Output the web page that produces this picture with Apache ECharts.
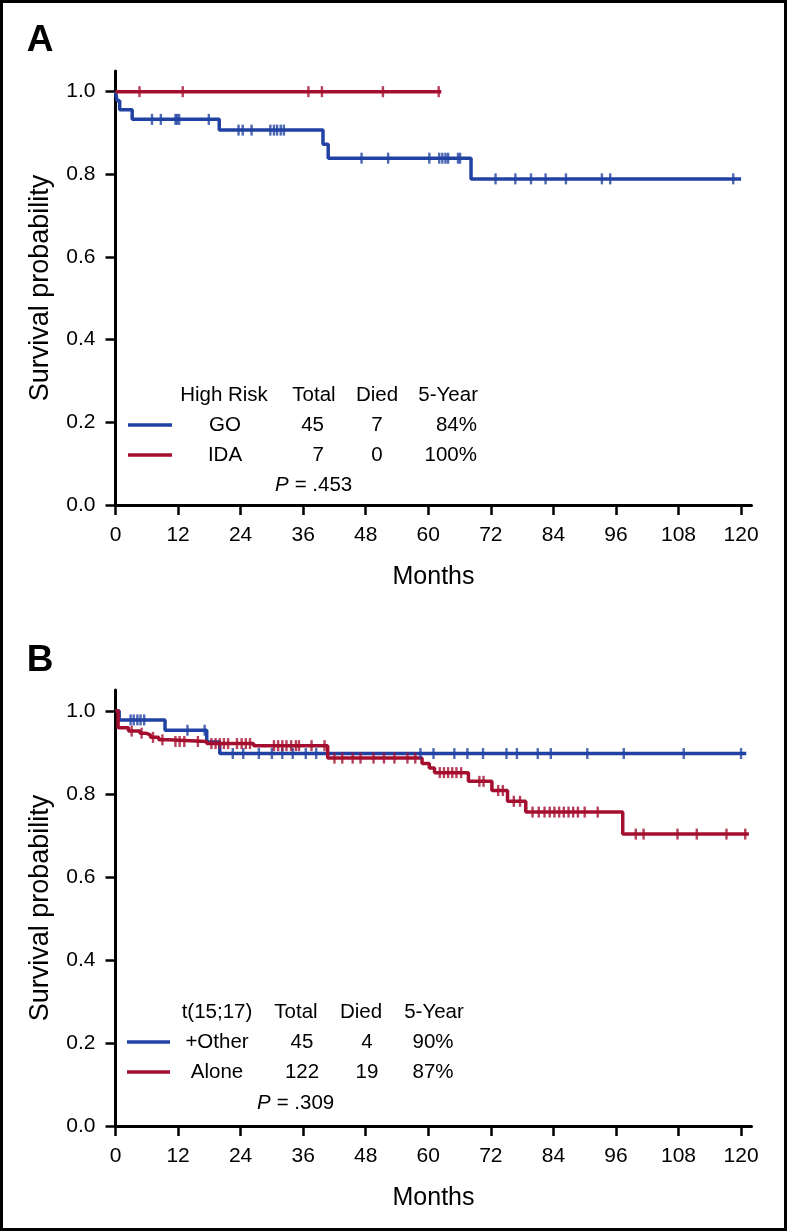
<!DOCTYPE html>
<html><head><meta charset="utf-8">
<script src="https://cdn.jsdelivr.net/npm/echarts@6/dist/echarts.min.js"></script>
<style>html,body{margin:0;padding:0;background:#fff}#c{width:787px;height:1231px}</style>
</head><body><div id="c"></div>
<script>
// ---------- data ----------
const monthTicks = [0, 12, 24, 36, 48, 60, 72, 84, 96, 108, 120];
const survTicks = [0, 0.2, 0.4, 0.6, 0.8, 1.0];

// Panel A : High Risk
const goSteps = [[0,1.0],[0.3,0.978],[0.8,0.956],[3.2,0.933],[19.9,0.907],[39.8,0.873],[40.8,0.839],[68.2,0.789],[120,0.789]];
const goCensor = [7.0,8.7,11.5,11.8,12.2,17.9,23.6,24.4,26.1,29.7,30.4,31.0,31.7,32.3,47.2,52.3,60.2,62.1,62.7,63.3,63.8,65.7,66.1,72.9,76.7,79.7,82.5,86.4,93.3,94.9,118.5];
const idaSteps = [[0,1.0],[62.5,1.0]];
const idaCensor = [4.6,12.9,37.0,39.6,51.3,62.0];

// Panel B : t(15;17)
const otherSteps = [[0,1.0],[0.7,0.978],[9.5,0.953],[17.5,0.925],[20.0,0.897],[121,0.897]];
const otherCensor = [2.9,3.5,4.2,4.8,5.5,13.8,17.1,22.5,24.5,27.5,30,32,34,36.5,38.5,58.5,61,65,67.5,70.5,75,77,81,83.5,90.5,97.5,109,120];
const aloneSteps = [[0,1.0],[0.5,0.959],[2.5,0.951],[4.7,0.946],[5.8,0.942],[6.7,0.936],[8.3,0.930],[10.1,0.926],[17.5,0.921],[26.5,0.916],[40.7,0.886],[58.8,0.873],[60.2,0.862],[61.2,0.851],[67.7,0.830],[72.2,0.808],[75.2,0.782],[78.7,0.756],[97.3,0.703],[121.5,0.703]];
const aloneCensor = [3.1,5.0,7.2,9.0,11.5,12.3,13.2,15.8,18.4,19.2,20.0,20.8,21.6,23.3,24.2,25.0,25.8,30.4,31.2,32.0,32.8,33.7,34.6,35.2,37.6,40.1,42,43.5,45.5,47,49.5,51.5,53.5,56,57.5,62.2,63.0,63.8,64.6,65.4,66.3,69.8,70.6,73.4,74.3,76.4,77.6,80.0,81.2,82.3,83.3,84.2,85.1,86.0,86.9,87.8,88.7,90.0,92.5,99.8,101.3,107.8,111.5,117.2,120.8];

const legendA = {header:['High Risk','Total','Died','5-Year'], rows:[['GO','45','7','84%'],['IDA','7','0','100%']], p:'.453'};
const legendB = {header:['t(15;17)','Total','Died','5-Year'], rows:[['+Other','45','4','90%'],['Alone','122','19','87%']], p:'.309'};

// ---------- helpers ----------
const BLUE = '#2142a3', RED = '#a50f2f';
const FONT = '"Liberation Sans", Arial, Helvetica, sans-serif';
function survAt(steps, t){ let v = steps[0][1]; for (const s of steps){ if (s[0] <= t) v = s[1]; } return v; }
function censorData(steps, c){ return c.map(t => [t, survAt(steps, t)]); }

function xAx(gi){ return {
  gridIndex: gi, type:'value', min:0, max:122, name:'Months', nameLocation:'middle', nameGap:60,
  nameTextStyle:{fontFamily:FONT, fontSize:25, color:'#000'},
  axisLine:{lineStyle:{color:'#000', width:3}},
  axisTick:{length:10, lineStyle:{color:'#000', width:2.5}, customValues: monthTicks},
  axisLabel:{fontFamily:FONT, fontSize:21, color:'#000', margin:20, customValues: monthTicks},
  splitLine:{show:false}
};}
function yAx(gi){ return {
  gridIndex: gi, type:'value', min:0, max:1.05, name:'Survival probability', nameLocation:'middle', nameGap:61,
  nameTextStyle:{fontFamily:FONT, fontSize:27, color:'#000'},
  axisLine:{show:true, lineStyle:{color:'#000', width:3}},
  axisTick:{show:true, length:10, lineStyle:{color:'#000', width:2.5}, customValues: survTicks},
  axisLabel:{fontFamily:FONT, fontSize:21, color:'#000', margin:20, customValues: survTicks, formatter: v => v.toFixed(1)},
  splitLine:{show:false}
};}
function curve(gi, steps, color){ return {type:'line', xAxisIndex:gi, yAxisIndex:gi, step:'end', data:steps, showSymbol:false, symbol:'none', lineStyle:{color, width:3.5}, z:2, animation:false}; }
function marks(gi, steps, c, color){ return {type:'scatter', xAxisIndex:gi, yAxisIndex:gi, data:censorData(steps,c), symbol:'rect', symbolSize:[2.4,11], itemStyle:{color}, z:3, animation:false}; }

const G = [];
function txt(x, y, text, align, extra){ G.push({type:'text', x, y, silent:true, style:Object.assign({text, font:'20.5px '+FONT, fill:'#000', align, verticalAlign:'middle'}, extra||{})}); }
function seg(x1, x2, y, color){ G.push({type:'line', silent:true, shape:{x1, y1:y, x2, y2:y}, style:{stroke:color, lineWidth:3.5}}); }

// border & panel letters
G.push({type:'rect', silent:true, shape:{x:0,y:0,width:787,height:1231}, style:{fill:'none', stroke:'#000', lineWidth:6}});
txt(40, 41, 'A', 'center', {font:'bold 37px '+FONT});
txt(40, 661, 'B', 'center', {font:'bold 37px '+FONT});

// legend A
txt(224, 395, legendA.header[0], 'center');
txt(314, 395, legendA.header[1], 'center');
txt(377, 395, legendA.header[2], 'center');
txt(478, 395, legendA.header[3], 'right');
[[425, BLUE],[455, RED]].forEach(([y,c], i) => {
  const r = legendA.rows[i];
  seg(128, 172, y, c);
  txt(225, y, r[0], 'center');
  txt(324, y, r[1], 'right');
  txt(377, y, r[2], 'center');
  txt(477, y, r[3], 'right');
});
txt(275, 485, 'P', 'left', {font:'italic 20.5px '+FONT});
txt(289, 485, ' = ' + legendA.p, 'left');

// legend B
txt(217, 1012, legendB.header[0], 'center');
txt(296, 1012, legendB.header[1], 'center');
txt(361, 1012, legendB.header[2], 'center');
txt(434, 1012, legendB.header[3], 'center');
[[1042, BLUE],[1072, RED]].forEach(([y,c], i) => {
  const r = legendB.rows[i];
  seg(127, 170, y, c);
  txt(217, y, r[0], 'center');
  txt(302, y, r[1], 'center');
  txt(367, y, r[2], 'center');
  txt(433, y, r[3], 'center');
});
txt(257, 1103, 'P', 'left', {font:'italic 20.5px '+FONT});
txt(271, 1103, ' = ' + legendB.p, 'left');

const chart = echarts.init(document.getElementById('c'), null, {renderer:'canvas'});
chart.setOption({
  animation:false,
  backgroundColor:'#fff',
  grid:[
    {left:115.5, top:71, width:636, height:434},
    {left:115.5, top:690, width:636, height:436}
  ],
  xAxis:[xAx(0), xAx(1)],
  yAxis:[yAx(0), yAx(1)],
  series:[
    curve(0, goSteps, BLUE), marks(0, goSteps, goCensor, BLUE),
    curve(0, idaSteps, RED), marks(0, idaSteps, idaCensor, RED),
    curve(1, otherSteps, BLUE), marks(1, otherSteps, otherCensor, BLUE),
    curve(1, aloneSteps, RED), marks(1, aloneSteps, aloneCensor, RED)
  ],
  graphic: G
});
</script></body></html>
